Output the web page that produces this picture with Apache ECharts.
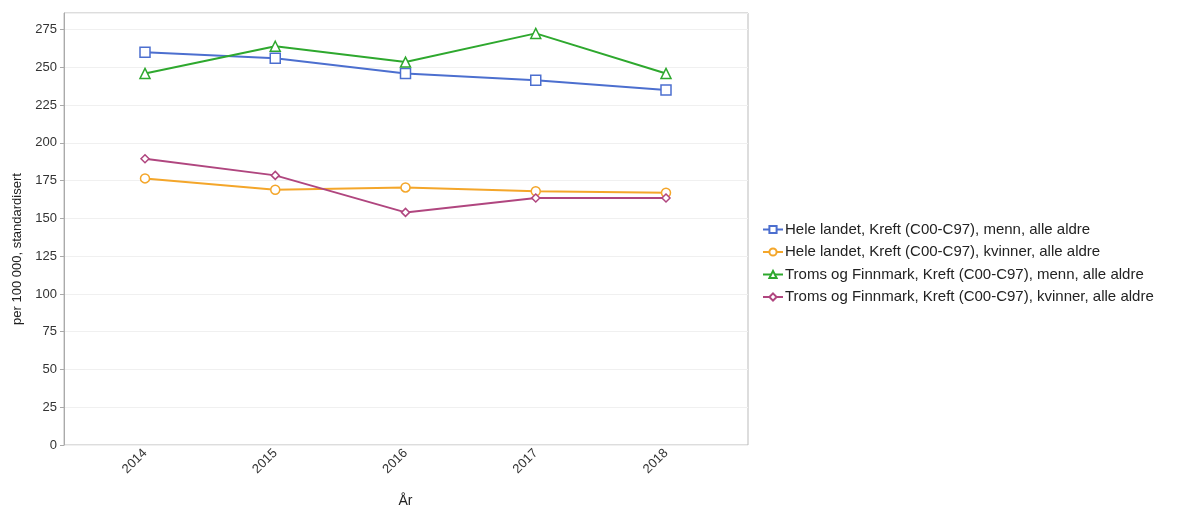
<!DOCTYPE html>
<html>
<head>
<meta charset="utf-8">
<script src="https://cdn.jsdelivr.net/npm/echarts@6/dist/echarts.min.js"></script>
<style>
  html, body { margin: 0; padding: 0; background: #fff; }
  #chart { width: 1184px; height: 509px; }
</style>
</head>
<body>
<div id="chart"></div>
<script>
  // data
  var years = ["2014", "2015", "2016", "2017", "2018"];
  var seriesNames = [
    "Hele landet, Kreft (C00-C97), menn, alle aldre",
    "Hele landet, Kreft (C00-C97), kvinner, alle aldre",
    "Troms og Finnmark, Kreft (C00-C97), menn, alle aldre",
    "Troms og Finnmark, Kreft (C00-C97), kvinner, alle aldre"
  ];
  var heleMenn = [260, 256, 246, 241.5, 235];
  var heleKvinner = [176.5, 169, 170.5, 168, 167];
  var tromsMenn = [246, 264, 253.5, 272.5, 246];
  var tromsKvinner = [189.5, 178.5, 154, 163.5, 163.5];

  var colors = ["#4c6fcf", "#f4a62a", "#2ea82e", "#b0467f"];
  var symbols = ["rect", "circle", "triangle", "diamond"];
  var sizes = [10, 9, 10, 8];
  var values = [heleMenn, heleKvinner, tromsMenn, tromsKvinner];

  var chart = echarts.init(document.getElementById("chart"));
  var font = "'Liberation Sans', Arial, sans-serif";

  var series = values.map(function (d, i) {
    return {
      name: seriesNames[i],
      type: "line",
      xAxisIndex: 1,
      yAxisIndex: 1,
      data: d,
      symbol: symbols[i],
      symbolSize: sizes[i],
      showAllSymbol: true,
      lineStyle: { width: 2, color: colors[i] },
      itemStyle: { color: "#fff", borderColor: colors[i], borderWidth: 1.5 },
      emphasis: { disabled: true }
    };
  });

  var option = {
    animation: false,
    textStyle: { fontFamily: font },
    legend: {
      orient: "vertical",
      left: 757,
      top: 217,
      itemWidth: 20,
      itemHeight: 9,
      itemGap: 7.5,
      data: seriesNames,
      textStyle: { fontSize: 15, color: "#222", fontFamily: font, padding: [0, 0, 0, -3] }
    },
    grid: [
      // frame + y axis
      { left: 64, right: 436, top: 13, bottom: 64, show: true, borderColor: "#bbb", borderWidth: 1,
        containLabel: false, outerBoundsMode: "none" },
      // data area, where the category points sit
      { left: 145, right: 518, top: 13, bottom: 64, containLabel: false, outerBoundsMode: "none" }
    ],
    xAxis: [
      { gridIndex: 0, type: "value", show: false },
      {
        gridIndex: 1,
        type: "category",
        boundaryGap: false,
        data: years,
        axisLine: { show: false },
        axisTick: { show: false },
        splitLine: { show: false },
        axisLabel: { rotate: 45, fontSize: 13, color: "#333", margin: 6, padding: [18, 0, 0, 0] },
        name: "År",
        nameLocation: "middle",
        nameGap: 49,
        nameTextStyle: { fontSize: 14, color: "#222" }
      }
    ],
    yAxis: [
      {
        gridIndex: 0,
        type: "value",
        min: 0,
        max: 286,
        interval: 25,
        axisLine: { show: true, lineStyle: { color: "#aaa" } },
        axisTick: { show: true, length: 4, lineStyle: { color: "#aaa" } },
        axisLabel: { fontSize: 13, color: "#333", margin: 7, showMaxLabel: false },
        splitLine: { show: true, lineStyle: { color: "#f0f0f0" } },
        name: "per 100 000, standardisert",
        nameLocation: "middle",
        nameGap: 38,
        nameTextStyle: { fontSize: 13, color: "#222", padding: [0, 0, 0, -40] }
      },
      { gridIndex: 1, type: "value", min: 0, max: 286, show: false }
    ],
    series: series
  };

  chart.setOption(option);
</script>
</body>
</html>
